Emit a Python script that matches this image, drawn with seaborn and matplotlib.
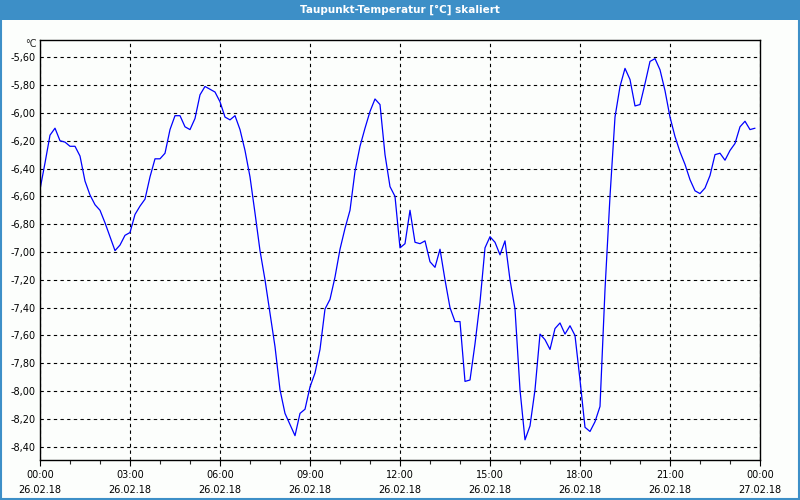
import matplotlib
matplotlib.use("Agg")
import matplotlib.dates as mdates
import matplotlib.pyplot as plt
import numpy as np
import pandas as pd
import seaborn as sns
from matplotlib.patches import Rectangle
from matplotlib.ticker import FixedLocator, FuncFormatter

# dew point readings, one every 10 minutes from 26.02.18 00:00
dew_point = [
    -6.55, -6.36, -6.16, -6.11, -6.20, -6.21, -6.24, -6.24, -6.31, -6.49,
    -6.59, -6.66, -6.70, -6.79, -6.89, -6.99, -6.95, -6.88, -6.86, -6.73,
    -6.67, -6.62, -6.46, -6.33, -6.33, -6.29, -6.12, -6.02, -6.02, -6.10,
    -6.12, -6.04, -5.87, -5.81, -5.83, -5.85, -5.92, -6.03, -6.05, -6.02,
    -6.12, -6.27, -6.46, -6.72, -6.99, -7.20, -7.44, -7.68, -7.99, -8.16,
    -8.24, -8.32, -8.16, -8.13, -7.97, -7.87, -7.70, -7.41, -7.34, -7.18,
    -6.98, -6.83, -6.70, -6.42, -6.24, -6.11, -5.99, -5.90, -5.94, -6.30,
    -6.53, -6.60, -6.97, -6.94, -6.70, -6.93, -6.94, -6.92, -7.07, -7.11,
    -6.98, -7.20, -7.40, -7.50, -7.50, -7.93, -7.92, -7.66, -7.36, -6.97,
    -6.89, -6.93, -7.02, -6.92, -7.20, -7.41, -7.99, -8.35, -8.25, -7.99,
    -7.59, -7.63, -7.70, -7.55, -7.51, -7.59, -7.53, -7.60, -7.92, -8.26,
    -8.29, -8.22, -8.11, -7.27, -6.60, -6.03, -5.81, -5.68, -5.76, -5.95,
    -5.94, -5.79, -5.63, -5.61, -5.69, -5.84, -6.03, -6.17, -6.28, -6.37,
    -6.48, -6.56, -6.58, -6.54, -6.45, -6.30, -6.29, -6.34, -6.27, -6.22,
    -6.10, -6.06, -6.12, -6.11,
]
times = pd.date_range("2018-02-26 00:00", periods=len(dew_point), freq="10min")
y_ticks = [-5.6 - 0.2 * i for i in range(15)]

df = pd.DataFrame({"time": times, "value": dew_point})

sns.set_theme(style="white")
plt.rcParams["font.family"] = ["DejaVu Sans"]

fig = plt.figure(figsize=(8, 5), dpi=100)
fig.patch.set_facecolor("#fcfefc")
ax = fig.add_axes([0.05, 0.08, 0.90, 0.84])
ax.set_facecolor("#fcfefc")

sns.lineplot(data=df, x="time", y="value", ax=ax, color="#0000ff", linewidth=0.9)

ax.set_xlim(pd.Timestamp("2018-02-26 00:00"), pd.Timestamp("2018-02-27 00:00"))
ax.set_ylim(-8.495, -5.476)

ax.yaxis.set_major_locator(FixedLocator(y_ticks))
ax.yaxis.set_major_formatter(FuncFormatter(lambda v, _: f"{v:.2f}".replace(".", ",")))
ax.xaxis.set_major_locator(mdates.HourLocator(byhour=range(0, 24, 3)))
ax.xaxis.set_minor_locator(mdates.HourLocator())
ax.xaxis.set_major_formatter(mdates.DateFormatter("%H:%M"))

ax.tick_params(axis="y", length=0, pad=3, labelsize=7, colors="black")
ax.tick_params(axis="x", which="major", length=4, width=0.8, direction="out",
               bottom=True, pad=3, labelsize=7, colors="black")
ax.tick_params(axis="x", which="minor", length=3, width=0.8, direction="out", bottom=True)

# second row of x labels: the date under each time
sec = ax.secondary_xaxis(-0.036)
sec.xaxis.set_major_locator(mdates.HourLocator(byhour=range(0, 24, 3)))
sec.xaxis.set_major_formatter(mdates.DateFormatter("%d.%m.%y"))
sec.tick_params(axis="x", length=0, pad=7, labelsize=7, colors="black")
sec.spines["bottom"].set_visible(False)

ax.grid(True, which="major", color="black", linestyle=(0, (3, 3)), linewidth=0.8)
for spine in ax.spines.values():
    spine.set_color("black")
    spine.set_linewidth(1.0)
ax.set_xlabel("")
ax.set_ylabel("")

fig.text(0.046, 0.912, "°C", ha="right", va="center", fontsize=7)

# title bar and frame
fig.patches.append(Rectangle((0, 0.96), 1, 0.04, transform=fig.transFigure,
                             facecolor="#3d8fc7", edgecolor="none", zorder=0))
fig.patches.append(Rectangle((0.001, 0.002), 0.998, 0.996, transform=fig.transFigure,
                             facecolor="none", edgecolor="#3d8fc7", linewidth=1.5, zorder=5))
fig.text(0.5, 0.98, "Taupunkt-Temperatur [°C] skaliert", ha="center", va="center",
         color="white", fontsize=7.5, fontweight="bold")

fig.savefig("out.png", dpi=100, facecolor=fig.get_facecolor())
